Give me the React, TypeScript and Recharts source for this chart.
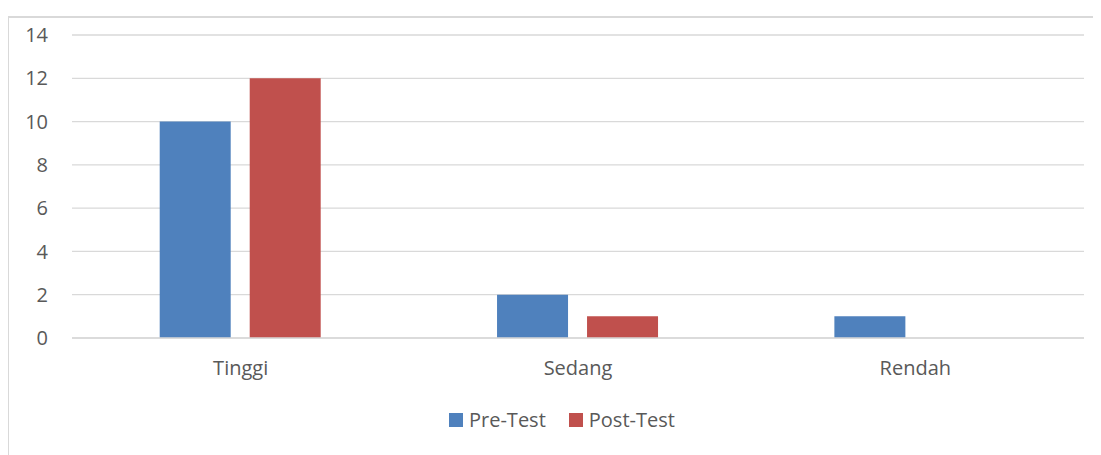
import React from "react";
import { Bar, BarChart, CartesianGrid, Legend, XAxis, YAxis } from "recharts";

const categories = ["Tinggi", "Sedang", "Rendah"];
const preTest = [10, 2, 1];
const postTest = [12, 1, 0];
const yTicks = [0, 2, 4, 6, 8, 10, 12, 14];
const seriesNames = ["Pre-Test", "Post-Test"];

const chartData = categories.map((name, i) => ({
  name,
  pre: preTest[i],
  post: postTest[i],
}));

const labelColor = "#595959";
const gridColor = "#d9d9d9";
const fontFamily = "'Open Sans', sans-serif";

type LegendItem = { value: string; color: string };

function ChartLegend({ payload }: { payload?: LegendItem[] }) {
  // keep the series order, recharts sorts the legend by name
  const items = [...(payload ?? [])].sort(
    (a, b) => seriesNames.indexOf(a.value) - seriesNames.indexOf(b.value),
  );
  return (
    <div
      style={{
        display: "flex",
        alignItems: "center",
        fontFamily,
        fontSize: 20,
        color: labelColor,
        lineHeight: "26px",
        height: 26,
      }}
    >
      {items.map((item, i) => (
        <div
          key={item.value}
          style={{ display: "flex", alignItems: "center", marginRight: i === 0 ? 23 : 0 }}
        >
          <span
            style={{
              display: "inline-block",
              width: 14,
              height: 14,
              background: item.color,
              marginRight: 6,
            }}
          />
          <span>{item.value}</span>
        </div>
      ))}
    </div>
  );
}

export default function App() {
  return (
    <div
      style={{
        position: "relative",
        width: 1101,
        height: 455,
        margin: "-8px 0 0 -8px",
        background: "#ffffff",
        overflow: "hidden",
      }}
    >
      <div style={{ position: "absolute", left: 0, top: 0 }}>
        <BarChart
          width={1101}
          height={455}
          data={chartData}
          margin={{ top: 35, right: 17, bottom: 22, left: 8 }}
          barCategoryGap="26%"
          barGap={19}
        >
          <CartesianGrid vertical={false} stroke={gridColor} strokeWidth={1.3} />
          <XAxis
            dataKey="name"
            height={69}
            tickSize={0}
            tickMargin={23}
            axisLine={{ stroke: gridColor, strokeWidth: 1.3 }}
            tickLine={false}
            tick={{ fill: labelColor, fontSize: 20, fontFamily }}
          />
          <YAxis
            width={64}
            domain={[0, 14]}
            ticks={yTicks}
            tickSize={0}
            tickMargin={24}
            axisLine={false}
            tickLine={false}
            tick={{ fill: labelColor, fontSize: 20, fontFamily }}
          />
          <Legend
            verticalAlign="bottom"
            content={(props: any) => <ChartLegend payload={props.payload} />}
            wrapperStyle={{ left: 449, width: 260, height: 26 }}
          />
          <Bar dataKey="pre" name="Pre-Test" fill="#4f81bd" isAnimationActive={false} />
          <Bar dataKey="post" name="Post-Test" fill="#c0504d" isAnimationActive={false} />
        </BarChart>
      </div>
      <div
        style={{
          position: "absolute",
          left: 7,
          top: 16,
          width: 1094,
          height: 439,
          borderLeft: "2px solid #d9d9d9",
          borderTop: "2px solid #d9d9d9",
          pointerEvents: "none",
        }}
      />
    </div>
  );
}
